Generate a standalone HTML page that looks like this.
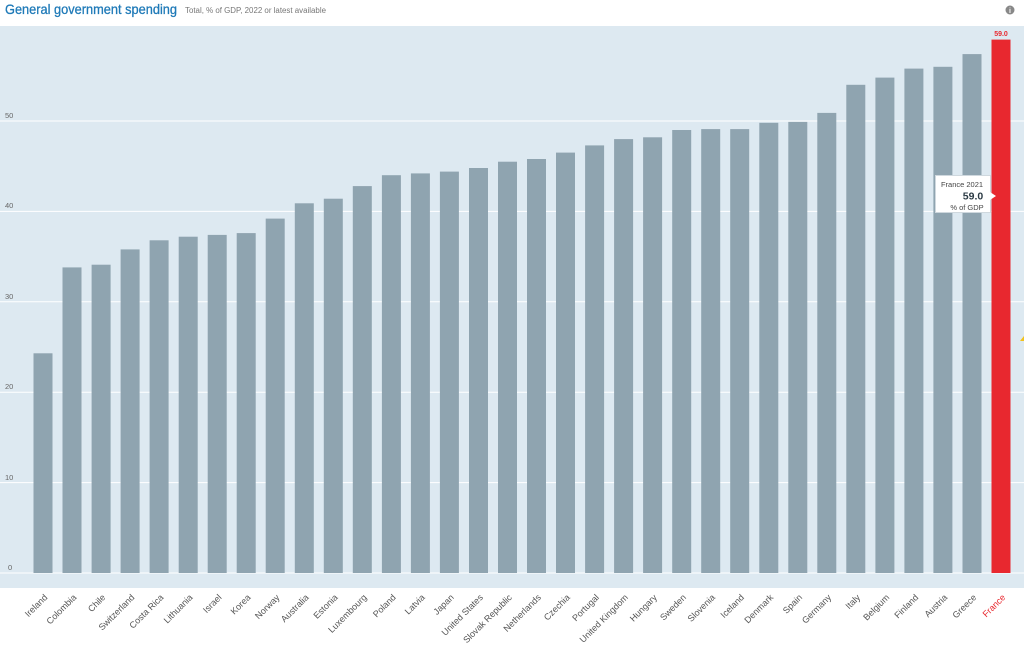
<!DOCTYPE html>
<html><head><meta charset="utf-8"><style>
html,body{margin:0;padding:0;background:#fff;width:1024px;height:647px;overflow:hidden}
</style></head><body>
<svg width="1024" height="647" xmlns="http://www.w3.org/2000/svg" font-family="Liberation Sans, sans-serif">
<text x="5" y="14" font-size="14" fill="#1f7ab8" stroke="#1f7ab8" stroke-width="0.3" textLength="172" lengthAdjust="spacingAndGlyphs">General government spending</text>
<text x="185" y="13" font-size="8" fill="#777" textLength="141" lengthAdjust="spacingAndGlyphs">Total, % of GDP, 2022 or latest available</text>
<circle cx="1010" cy="10" r="4.5" fill="#888"/><text x="1010" y="13" font-size="7" fill="#fff" text-anchor="middle" font-weight="bold">i</text>
<rect x="0" y="26" width="1024" height="562" fill="#dde9f1"/>
<g stroke="#fff" stroke-width="1">
<line x1="0" x2="1024" y1="573" y2="573"/><line x1="0" x2="1024" y1="482.6" y2="482.6"/><line x1="0" x2="1024" y1="392.2" y2="392.2"/><line x1="0" x2="1024" y1="301.8" y2="301.8"/><line x1="0" x2="1024" y1="211.4" y2="211.4"/><line x1="0" x2="1024" y1="121" y2="121"/>
</g>
<g font-size="7.5" fill="#666">
<text x="8" y="570">0</text><text x="5" y="480">10</text><text x="5" y="389">20</text><text x="5" y="299">30</text><text x="5" y="208">40</text><text x="5" y="118">50</text>
</g>
<g fill="#8fa4b0">
<rect x="33.5" y="353.3" width="19" height="219.7"/>
<rect x="62.5" y="267.4" width="19" height="305.6"/>
<rect x="91.6" y="264.7" width="19" height="308.3"/>
<rect x="120.6" y="249.4" width="19" height="323.6"/>
<rect x="149.6" y="240.3" width="19" height="332.7"/>
<rect x="178.7" y="236.7" width="19" height="336.3"/>
<rect x="207.7" y="234.9" width="19" height="338.1"/>
<rect x="236.7" y="233.1" width="19" height="339.9"/>
<rect x="265.7" y="218.6" width="19" height="354.4"/>
<rect x="294.8" y="203.3" width="19" height="369.7"/>
<rect x="323.8" y="198.7" width="19" height="374.3"/>
<rect x="352.8" y="186.1" width="19" height="386.9"/>
<rect x="381.9" y="175.2" width="19" height="397.8"/>
<rect x="410.9" y="173.4" width="19" height="399.6"/>
<rect x="439.9" y="171.6" width="19" height="401.4"/>
<rect x="469" y="168" width="19" height="405"/>
<rect x="498" y="161.7" width="19" height="411.3"/>
<rect x="527" y="159" width="19" height="414"/>
<rect x="556" y="152.6" width="19" height="420.4"/>
<rect x="585.1" y="145.4" width="19" height="427.6"/>
<rect x="614.1" y="139.1" width="19" height="433.9"/>
<rect x="643.1" y="137.3" width="19" height="435.7"/>
<rect x="672.2" y="130" width="19" height="443"/>
<rect x="701.2" y="129.1" width="19" height="443.9"/>
<rect x="730.2" y="129.1" width="19" height="443.9"/>
<rect x="759.3" y="122.8" width="19" height="450.2"/>
<rect x="788.3" y="121.9" width="19" height="451.1"/>
<rect x="817.3" y="112.9" width="19" height="460.1"/>
<rect x="846.3" y="84.8" width="19" height="488.2"/>
<rect x="875.4" y="77.6" width="19" height="495.4"/>
<rect x="904.4" y="68.6" width="19" height="504.4"/>
<rect x="933.4" y="66.8" width="19" height="506.2"/>
<rect x="962.5" y="54.1" width="19" height="518.9"/>
</g>
<rect x="991.5" y="39.6" width="19" height="533.4" fill="#e8282f"/>
<g font-size="9" fill="#555" text-anchor="end">
<text transform="translate(48,598) rotate(-45)">Ireland</text>
<text transform="translate(77,598) rotate(-45)">Colombia</text>
<text transform="translate(106.1,598) rotate(-45)">Chile</text>
<text transform="translate(135.1,598) rotate(-45)">Switzerland</text>
<text transform="translate(164.1,598) rotate(-45)">Costa Rica</text>
<text transform="translate(193.2,598) rotate(-45)">Lithuania</text>
<text transform="translate(222.2,598) rotate(-45)">Israel</text>
<text transform="translate(251.2,598) rotate(-45)">Korea</text>
<text transform="translate(280.2,598) rotate(-45)">Norway</text>
<text transform="translate(309.3,598) rotate(-45)">Australia</text>
<text transform="translate(338.3,598) rotate(-45)">Estonia</text>
<text transform="translate(367.3,598) rotate(-45)">Luxembourg</text>
<text transform="translate(396.4,598) rotate(-45)">Poland</text>
<text transform="translate(425.4,598) rotate(-45)">Latvia</text>
<text transform="translate(454.4,598) rotate(-45)">Japan</text>
<text transform="translate(483.5,598) rotate(-45)">United States</text>
<text transform="translate(512.5,598) rotate(-45)">Slovak Republic</text>
<text transform="translate(541.5,598) rotate(-45)">Netherlands</text>
<text transform="translate(570.5,598) rotate(-45)">Czechia</text>
<text transform="translate(599.6,598) rotate(-45)">Portugal</text>
<text transform="translate(628.6,598) rotate(-45)">United Kingdom</text>
<text transform="translate(657.6,598) rotate(-45)">Hungary</text>
<text transform="translate(686.7,598) rotate(-45)">Sweden</text>
<text transform="translate(715.7,598) rotate(-45)">Slovenia</text>
<text transform="translate(744.7,598) rotate(-45)">Iceland</text>
<text transform="translate(773.8,598) rotate(-45)">Denmark</text>
<text transform="translate(802.8,598) rotate(-45)">Spain</text>
<text transform="translate(831.8,598) rotate(-45)">Germany</text>
<text transform="translate(860.8,598) rotate(-45)">Italy</text>
<text transform="translate(889.9,598) rotate(-45)">Belgium</text>
<text transform="translate(918.9,598) rotate(-45)">Finland</text>
<text transform="translate(947.9,598) rotate(-45)">Austria</text>
<text transform="translate(977,598) rotate(-45)">Greece</text>
<text transform="translate(1006,598) rotate(-45)" fill="#e8282f">France</text>
</g>
<text x="1001" y="36" font-size="7" font-weight="bold" fill="#e8282f" text-anchor="middle">59.0</text>
<rect x="935.5" y="175.5" width="55" height="37" fill="#fff" stroke="#cfd8de"/>
<path d="M990 192 L996 196 L990 200Z" fill="#fff"/>
<text x="962" y="187" font-size="7.5" fill="#444" text-anchor="middle">France 2021</text>
<text x="973" y="199.5" font-size="10.5" font-weight="bold" fill="#2b3a44" text-anchor="middle">59.0</text>
<text x="967" y="210" font-size="7.5" fill="#444" text-anchor="middle">% of GDP</text>
<path d="M1020 341 L1024 336 L1024 341Z" fill="#f2c21b"/>
</svg>
</body></html>
